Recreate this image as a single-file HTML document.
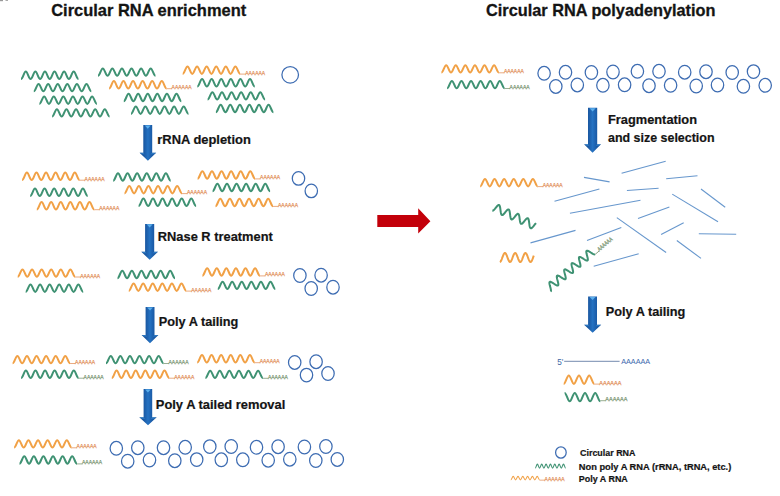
<!DOCTYPE html>
<html><head><meta charset="utf-8"><style>
html,body{margin:0;padding:0;background:#fff;}
body{width:780px;height:496px;overflow:hidden;}
svg{display:block;font-family:"Liberation Sans",sans-serif;}
</style></head><body>
<svg width="780" height="496" viewBox="0 0 780 496">
<defs>
<linearGradient id="ag" x1="0" y1="0" x2="1" y2="0">
<stop offset="0" stop-color="#154a8c"/>
<stop offset="0.25" stop-color="#1a58a2"/>
<stop offset="0.5" stop-color="#2572c2"/>
<stop offset="0.75" stop-color="#1a5aa6"/>
<stop offset="1" stop-color="#154a8c"/>
</linearGradient>
</defs>
<rect width="780" height="496" fill="#fff"/>
<rect x="0" y="0" width="3" height="1.2" fill="#999"/><rect x="5.5" y="0" width="2.5" height="1" fill="#aaa"/>
<text x="51.2" y="15.9" font-size="16.6" fill="#141414" font-weight="bold" textLength="195" lengthAdjust="spacingAndGlyphs" stroke="#141414" stroke-width="0.3">Circular RNA enrichment</text>
<text x="486" y="16" font-size="16.6" fill="#141414" font-weight="bold" textLength="229.5" lengthAdjust="spacingAndGlyphs" stroke="#141414" stroke-width="0.3">Circular RNA polyadenylation</text>
<path d="M21 79C22.74 79 24.05 71.6 25.79 71.6C27.53 71.6 28.84 79 30.58 79C32.32 79 33.63 71.6 35.37 71.6C37.11 71.6 38.42 79 40.16 79C41.9 79 43.21 71.6 44.95 71.6C46.69 71.6 48 79 49.74 79C51.48 79 52.79 71.6 54.53 71.6C56.27 71.6 57.58 79 59.32 79C61.06 79 62.37 71.6 64.11 71.6C65.85 71.6 67.16 79 68.9 79C70.64 79 71.95 71.6 73.69 71.6C75.43 71.6 76.74 79 78.48 79" stroke="#3f9273" stroke-width="2" fill="none"/>
<path d="M33.8 91.3C35.54 91.3 36.85 83.9 38.59 83.9C40.33 83.9 41.64 91.3 43.38 91.3C45.12 91.3 46.43 83.9 48.17 83.9C49.91 83.9 51.22 91.3 52.96 91.3C54.7 91.3 56.01 83.9 57.75 83.9C59.49 83.9 60.8 91.3 62.54 91.3C64.28 91.3 65.59 83.9 67.33 83.9C69.07 83.9 70.38 91.3 72.12 91.3C73.86 91.3 75.17 83.9 76.91 83.9C78.65 83.9 79.96 91.3 81.7 91.3C83.44 91.3 84.75 83.9 86.49 83.9C88.23 83.9 89.54 91.3 91.28 91.3" stroke="#3f9273" stroke-width="2" fill="none"/>
<path d="M39.4 103.9C41.14 103.9 42.45 96.5 44.19 96.5C45.93 96.5 47.24 103.9 48.98 103.9C50.72 103.9 52.03 96.5 53.77 96.5C55.51 96.5 56.82 103.9 58.56 103.9C60.3 103.9 61.61 96.5 63.35 96.5C65.09 96.5 66.4 103.9 68.14 103.9C69.88 103.9 71.19 96.5 72.93 96.5C74.67 96.5 75.98 103.9 77.72 103.9C79.46 103.9 80.77 96.5 82.51 96.5C84.25 96.5 85.56 103.9 87.3 103.9C89.04 103.9 90.35 96.5 92.09 96.5C93.83 96.5 95.14 103.9 96.88 103.9" stroke="#3f9273" stroke-width="2" fill="none"/>
<path d="M52.1 116.6C53.84 116.6 55.15 109.2 56.89 109.2C58.63 109.2 59.94 116.6 61.68 116.6C63.42 116.6 64.73 109.2 66.47 109.2C68.21 109.2 69.52 116.6 71.26 116.6C73 116.6 74.31 109.2 76.05 109.2C77.79 109.2 79.1 116.6 80.84 116.6C82.58 116.6 83.89 109.2 85.63 109.2C87.37 109.2 88.68 116.6 90.42 116.6C92.16 116.6 93.47 109.2 95.21 109.2C96.95 109.2 98.26 116.6 100 116.6C101.74 116.6 103.05 109.2 104.79 109.2C106.53 109.2 107.84 116.6 109.58 116.6" stroke="#3f9273" stroke-width="2" fill="none"/>
<path d="M98 75.8C99.74 75.8 101.05 68.4 102.79 68.4C104.53 68.4 105.84 75.8 107.58 75.8C109.32 75.8 110.63 68.4 112.37 68.4C114.11 68.4 115.42 75.8 117.16 75.8C118.9 75.8 120.21 68.4 121.95 68.4C123.69 68.4 125 75.8 126.74 75.8C128.48 75.8 129.79 68.4 131.53 68.4C133.27 68.4 134.58 75.8 136.32 75.8C138.06 75.8 139.37 68.4 141.11 68.4C142.85 68.4 144.16 75.8 145.9 75.8C147.64 75.8 148.95 68.4 150.69 68.4C152.43 68.4 153.74 75.8 155.48 75.8" stroke="#3f9273" stroke-width="2" fill="none"/>
<path d="M109.1 88.5C110.84 88.5 112.15 81.1 113.89 81.1C115.63 81.1 116.94 88.5 118.68 88.5C120.42 88.5 121.73 81.1 123.47 81.1C125.21 81.1 126.52 88.5 128.26 88.5C130 88.5 131.31 81.1 133.05 81.1C134.79 81.1 136.1 88.5 137.84 88.5C139.58 88.5 140.89 81.1 142.63 81.1C144.37 81.1 145.68 88.5 147.42 88.5C149.16 88.5 150.47 81.1 152.21 81.1C153.95 81.1 155.26 88.5 157 88.5C158.74 88.5 160.05 81.1 161.79 81.1C163.53 81.1 164.84 88.5 166.58 88.5" stroke="#f1a146" stroke-width="2" fill="none"/>
<path d="M166.58 88.7 L172.08 88.7" stroke="#e39563" stroke-width="0.8" fill="none"/>
<text x="171.58" y="89.2" font-size="5.6" fill="#e39563" stroke="#e39563" stroke-width="0.25" textLength="20" lengthAdjust="spacingAndGlyphs">AAAAAA</text>
<path d="M123.8 101.2C125.54 101.2 126.85 93.8 128.59 93.8C130.33 93.8 131.64 101.2 133.38 101.2C135.12 101.2 136.43 93.8 138.17 93.8C139.91 93.8 141.22 101.2 142.96 101.2C144.7 101.2 146.01 93.8 147.75 93.8C149.49 93.8 150.8 101.2 152.54 101.2C154.28 101.2 155.59 93.8 157.33 93.8C159.07 93.8 160.38 101.2 162.12 101.2C163.86 101.2 165.17 93.8 166.91 93.8C168.65 93.8 169.96 101.2 171.7 101.2C173.44 101.2 174.75 93.8 176.49 93.8C178.23 93.8 179.54 101.2 181.28 101.2" stroke="#3f9273" stroke-width="2" fill="none"/>
<path d="M131 113.9C132.74 113.9 134.05 106.5 135.79 106.5C137.53 106.5 138.84 113.9 140.58 113.9C142.32 113.9 143.63 106.5 145.37 106.5C147.11 106.5 148.42 113.9 150.16 113.9C151.9 113.9 153.21 106.5 154.95 106.5C156.69 106.5 158 113.9 159.74 113.9C161.48 113.9 162.79 106.5 164.53 106.5C166.27 106.5 167.58 113.9 169.32 113.9C171.06 113.9 172.37 106.5 174.11 106.5C175.85 106.5 177.16 113.9 178.9 113.9C180.64 113.9 181.95 106.5 183.69 106.5C185.43 106.5 186.74 113.9 188.48 113.9" stroke="#3f9273" stroke-width="2" fill="none"/>
<path d="M182.7 73.9C184.44 73.9 185.75 66.5 187.49 66.5C189.23 66.5 190.54 73.9 192.28 73.9C194.02 73.9 195.33 66.5 197.07 66.5C198.81 66.5 200.12 73.9 201.86 73.9C203.6 73.9 204.91 66.5 206.65 66.5C208.39 66.5 209.7 73.9 211.44 73.9C213.18 73.9 214.49 66.5 216.23 66.5C217.97 66.5 219.28 73.9 221.02 73.9C222.76 73.9 224.07 66.5 225.81 66.5C227.55 66.5 228.86 73.9 230.6 73.9C232.34 73.9 233.65 66.5 235.39 66.5C237.13 66.5 238.44 73.9 240.18 73.9" stroke="#f1a146" stroke-width="2" fill="none"/>
<path d="M240.18 74.1 L245.68 74.1" stroke="#e39563" stroke-width="0.8" fill="none"/>
<text x="245.18" y="74.6" font-size="5.6" fill="#e39563" stroke="#e39563" stroke-width="0.25" textLength="20" lengthAdjust="spacingAndGlyphs">AAAAAA</text>
<path d="M197.3 86.5C199.04 86.5 200.35 79.1 202.09 79.1C203.83 79.1 205.14 86.5 206.88 86.5C208.62 86.5 209.93 79.1 211.67 79.1C213.41 79.1 214.72 86.5 216.46 86.5C218.2 86.5 219.51 79.1 221.25 79.1C222.99 79.1 224.3 86.5 226.04 86.5C227.78 86.5 229.09 79.1 230.83 79.1C232.57 79.1 233.88 86.5 235.62 86.5C237.36 86.5 238.67 79.1 240.41 79.1C242.15 79.1 243.46 86.5 245.2 86.5C246.94 86.5 248.25 79.1 249.99 79.1C251.73 79.1 253.04 86.5 254.78 86.5" stroke="#3f9273" stroke-width="2" fill="none"/>
<path d="M207.6 99.6C209.34 99.6 210.65 92.2 212.39 92.2C214.13 92.2 215.44 99.6 217.18 99.6C218.92 99.6 220.23 92.2 221.97 92.2C223.71 92.2 225.02 99.6 226.76 99.6C228.5 99.6 229.81 92.2 231.55 92.2C233.29 92.2 234.6 99.6 236.34 99.6C238.08 99.6 239.39 92.2 241.13 92.2C242.87 92.2 244.18 99.6 245.92 99.6C247.66 99.6 248.97 92.2 250.71 92.2C252.45 92.2 253.76 99.6 255.5 99.6C257.24 99.6 258.55 92.2 260.29 92.2C262.03 92.2 263.34 99.6 265.08 99.6" stroke="#3f9273" stroke-width="2" fill="none"/>
<path d="M215.9 112.2C217.64 112.2 218.95 104.8 220.69 104.8C222.43 104.8 223.74 112.2 225.48 112.2C227.22 112.2 228.53 104.8 230.27 104.8C232.01 104.8 233.32 112.2 235.06 112.2C236.8 112.2 238.11 104.8 239.85 104.8C241.59 104.8 242.9 112.2 244.64 112.2C246.38 112.2 247.69 104.8 249.43 104.8C251.17 104.8 252.48 112.2 254.22 112.2C255.96 112.2 257.27 104.8 259.01 104.8C260.75 104.8 262.06 112.2 263.8 112.2C265.54 112.2 266.85 104.8 268.59 104.8C270.33 104.8 271.64 112.2 273.38 112.2" stroke="#3f9273" stroke-width="2" fill="none"/>
<ellipse cx="290.2" cy="74.8" rx="8.3" ry="8.2" stroke="#3d6cb2" stroke-width="1.25" fill="none"/>
<path d="M22.1 180C23.84 180 25.15 172.6 26.89 172.6C28.63 172.6 29.94 180 31.68 180C33.42 180 34.73 172.6 36.47 172.6C38.21 172.6 39.52 180 41.26 180C43 180 44.31 172.6 46.05 172.6C47.79 172.6 49.1 180 50.84 180C52.58 180 53.89 172.6 55.63 172.6C57.37 172.6 58.68 180 60.42 180C62.16 180 63.47 172.6 65.21 172.6C66.95 172.6 68.26 180 70 180C71.74 180 73.05 172.6 74.79 172.6C76.53 172.6 77.84 180 79.58 180" stroke="#f1a146" stroke-width="2" fill="none"/>
<path d="M79.58 180.2 L85.08 180.2" stroke="#e39563" stroke-width="0.8" fill="none"/>
<text x="84.58" y="180.7" font-size="5.6" fill="#e39563" stroke="#e39563" stroke-width="0.25" textLength="20" lengthAdjust="spacingAndGlyphs">AAAAAA</text>
<path d="M30.2 196C31.94 196 33.25 188.6 34.99 188.6C36.73 188.6 38.04 196 39.78 196C41.52 196 42.83 188.6 44.57 188.6C46.31 188.6 47.62 196 49.36 196C51.1 196 52.41 188.6 54.15 188.6C55.89 188.6 57.2 196 58.94 196C60.68 196 61.99 188.6 63.73 188.6C65.47 188.6 66.78 196 68.52 196C70.26 196 71.57 188.6 73.31 188.6C75.05 188.6 76.36 196 78.1 196C79.84 196 81.15 188.6 82.89 188.6C84.63 188.6 85.94 196 87.68 196" stroke="#3f9273" stroke-width="2" fill="none"/>
<path d="M36.8 209.5C38.54 209.5 39.85 202.1 41.59 202.1C43.33 202.1 44.64 209.5 46.38 209.5C48.12 209.5 49.43 202.1 51.17 202.1C52.91 202.1 54.22 209.5 55.96 209.5C57.7 209.5 59.01 202.1 60.75 202.1C62.49 202.1 63.8 209.5 65.54 209.5C67.28 209.5 68.59 202.1 70.33 202.1C72.07 202.1 73.38 209.5 75.12 209.5C76.86 209.5 78.17 202.1 79.91 202.1C81.65 202.1 82.96 209.5 84.7 209.5C86.44 209.5 87.75 202.1 89.49 202.1C91.23 202.1 92.54 209.5 94.28 209.5" stroke="#f1a146" stroke-width="2" fill="none"/>
<path d="M94.28 209.7 L99.78 209.7" stroke="#e39563" stroke-width="0.8" fill="none"/>
<text x="99.28" y="210.2" font-size="5.6" fill="#e39563" stroke="#e39563" stroke-width="0.25" textLength="20" lengthAdjust="spacingAndGlyphs">AAAAAA</text>
<path d="M113.2 180.7C114.94 180.7 116.25 173.3 117.99 173.3C119.73 173.3 121.04 180.7 122.78 180.7C124.52 180.7 125.83 173.3 127.57 173.3C129.31 173.3 130.62 180.7 132.36 180.7C134.1 180.7 135.41 173.3 137.15 173.3C138.89 173.3 140.2 180.7 141.94 180.7C143.68 180.7 144.99 173.3 146.73 173.3C148.47 173.3 149.78 180.7 151.52 180.7C153.26 180.7 154.57 173.3 156.31 173.3C158.05 173.3 159.36 180.7 161.1 180.7C162.84 180.7 164.15 173.3 165.89 173.3C167.63 173.3 168.94 180.7 170.68 180.7" stroke="#3f9273" stroke-width="2" fill="none"/>
<path d="M124.5 193.4C126.24 193.4 127.55 186 129.29 186C131.03 186 132.34 193.4 134.08 193.4C135.82 193.4 137.13 186 138.87 186C140.61 186 141.92 193.4 143.66 193.4C145.4 193.4 146.71 186 148.45 186C150.19 186 151.5 193.4 153.24 193.4C154.98 193.4 156.29 186 158.03 186C159.77 186 161.08 193.4 162.82 193.4C164.56 193.4 165.87 186 167.61 186C169.35 186 170.66 193.4 172.4 193.4C174.14 193.4 175.45 186 177.19 186C178.93 186 180.24 193.4 181.98 193.4" stroke="#f1a146" stroke-width="2" fill="none"/>
<path d="M181.98 193.6 L187.48 193.6" stroke="#e39563" stroke-width="0.8" fill="none"/>
<text x="186.98" y="194.1" font-size="5.6" fill="#e39563" stroke="#e39563" stroke-width="0.25" textLength="20" lengthAdjust="spacingAndGlyphs">AAAAAA</text>
<path d="M138.6 206C140.34 206 141.65 198.6 143.39 198.6C145.13 198.6 146.44 206 148.18 206C149.92 206 151.23 198.6 152.97 198.6C154.71 198.6 156.02 206 157.76 206C159.5 206 160.81 198.6 162.55 198.6C164.29 198.6 165.6 206 167.34 206C169.08 206 170.39 198.6 172.13 198.6C173.87 198.6 175.18 206 176.92 206C178.66 206 179.97 198.6 181.71 198.6C183.45 198.6 184.76 206 186.5 206C188.24 206 189.55 198.6 191.29 198.6C193.03 198.6 194.34 206 196.08 206" stroke="#3f9273" stroke-width="2" fill="none"/>
<path d="M197.6 178.7C199.34 178.7 200.65 171.3 202.39 171.3C204.13 171.3 205.44 178.7 207.18 178.7C208.92 178.7 210.23 171.3 211.97 171.3C213.71 171.3 215.02 178.7 216.76 178.7C218.5 178.7 219.81 171.3 221.55 171.3C223.29 171.3 224.6 178.7 226.34 178.7C228.08 178.7 229.39 171.3 231.13 171.3C232.87 171.3 234.18 178.7 235.92 178.7C237.66 178.7 238.97 171.3 240.71 171.3C242.45 171.3 243.76 178.7 245.5 178.7C247.24 178.7 248.55 171.3 250.29 171.3C252.03 171.3 253.34 178.7 255.08 178.7" stroke="#f1a146" stroke-width="2" fill="none"/>
<path d="M255.08 178.9 L260.58 178.9" stroke="#e39563" stroke-width="0.8" fill="none"/>
<text x="260.08" y="179.4" font-size="5.6" fill="#e39563" stroke="#e39563" stroke-width="0.25" textLength="20" lengthAdjust="spacingAndGlyphs">AAAAAA</text>
<path d="M212.6 191.2C214.34 191.2 215.65 183.8 217.39 183.8C219.13 183.8 220.44 191.2 222.18 191.2C223.92 191.2 225.23 183.8 226.97 183.8C228.71 183.8 230.02 191.2 231.76 191.2C233.5 191.2 234.81 183.8 236.55 183.8C238.29 183.8 239.6 191.2 241.34 191.2C243.08 191.2 244.39 183.8 246.13 183.8C247.87 183.8 249.18 191.2 250.92 191.2C252.66 191.2 253.97 183.8 255.71 183.8C257.45 183.8 258.76 191.2 260.5 191.2C262.24 191.2 263.55 183.8 265.29 183.8C267.03 183.8 268.34 191.2 270.08 191.2" stroke="#3f9273" stroke-width="2" fill="none"/>
<path d="M215.5 206.2C217.24 206.2 218.55 198.8 220.29 198.8C222.03 198.8 223.34 206.2 225.08 206.2C226.82 206.2 228.13 198.8 229.87 198.8C231.61 198.8 232.92 206.2 234.66 206.2C236.4 206.2 237.71 198.8 239.45 198.8C241.19 198.8 242.5 206.2 244.24 206.2C245.98 206.2 247.29 198.8 249.03 198.8C250.77 198.8 252.08 206.2 253.82 206.2C255.56 206.2 256.87 198.8 258.61 198.8C260.35 198.8 261.66 206.2 263.4 206.2C265.14 206.2 266.45 198.8 268.19 198.8C269.93 198.8 271.24 206.2 272.98 206.2" stroke="#f1a146" stroke-width="2" fill="none"/>
<path d="M272.98 206.4 L278.48 206.4" stroke="#e39563" stroke-width="0.8" fill="none"/>
<text x="277.98" y="206.9" font-size="5.6" fill="#e39563" stroke="#e39563" stroke-width="0.25" textLength="20" lengthAdjust="spacingAndGlyphs">AAAAAA</text>
<ellipse cx="298.5" cy="178.4" rx="6.2" ry="6.85" stroke="#3d6cb2" stroke-width="1.25" fill="none"/>
<ellipse cx="311.3" cy="190.9" rx="6.2" ry="6.85" stroke="#3d6cb2" stroke-width="1.25" fill="none"/>
<path d="M17.7 276.8C19.44 276.8 20.75 269.4 22.49 269.4C24.23 269.4 25.54 276.8 27.28 276.8C29.02 276.8 30.33 269.4 32.07 269.4C33.81 269.4 35.12 276.8 36.86 276.8C38.6 276.8 39.91 269.4 41.65 269.4C43.39 269.4 44.7 276.8 46.44 276.8C48.18 276.8 49.49 269.4 51.23 269.4C52.97 269.4 54.28 276.8 56.02 276.8C57.76 276.8 59.07 269.4 60.81 269.4C62.55 269.4 63.86 276.8 65.6 276.8C67.34 276.8 68.65 269.4 70.39 269.4C72.13 269.4 73.44 276.8 75.18 276.8" stroke="#f1a146" stroke-width="2" fill="none"/>
<path d="M75.18 277 L80.68 277" stroke="#e39563" stroke-width="0.8" fill="none"/>
<text x="80.18" y="277.5" font-size="5.6" fill="#e39563" stroke="#e39563" stroke-width="0.25" textLength="20" lengthAdjust="spacingAndGlyphs">AAAAAA</text>
<path d="M25.7 291.9C27.44 291.9 28.75 284.5 30.49 284.5C32.23 284.5 33.54 291.9 35.28 291.9C37.02 291.9 38.33 284.5 40.07 284.5C41.81 284.5 43.12 291.9 44.86 291.9C46.6 291.9 47.91 284.5 49.65 284.5C51.39 284.5 52.7 291.9 54.44 291.9C56.18 291.9 57.49 284.5 59.23 284.5C60.97 284.5 62.28 291.9 64.02 291.9C65.76 291.9 67.07 284.5 68.81 284.5C70.55 284.5 71.86 291.9 73.6 291.9C75.34 291.9 76.65 284.5 78.39 284.5C80.13 284.5 81.44 291.9 83.18 291.9" stroke="#3f9273" stroke-width="2" fill="none"/>
<path d="M117.5 278.2C119.24 278.2 120.55 270.8 122.29 270.8C124.03 270.8 125.34 278.2 127.08 278.2C128.82 278.2 130.13 270.8 131.87 270.8C133.61 270.8 134.92 278.2 136.66 278.2C138.4 278.2 139.71 270.8 141.45 270.8C143.19 270.8 144.5 278.2 146.24 278.2C147.98 278.2 149.29 270.8 151.03 270.8C152.77 270.8 154.08 278.2 155.82 278.2C157.56 278.2 158.87 270.8 160.61 270.8C162.35 270.8 163.66 278.2 165.4 278.2C167.14 278.2 168.45 270.8 170.19 270.8C171.93 270.8 173.24 278.2 174.98 278.2" stroke="#3f9273" stroke-width="2" fill="none"/>
<path d="M128.8 290.9C130.54 290.9 131.85 283.5 133.59 283.5C135.33 283.5 136.64 290.9 138.38 290.9C140.12 290.9 141.43 283.5 143.17 283.5C144.91 283.5 146.22 290.9 147.96 290.9C149.7 290.9 151.01 283.5 152.75 283.5C154.49 283.5 155.8 290.9 157.54 290.9C159.28 290.9 160.59 283.5 162.33 283.5C164.07 283.5 165.38 290.9 167.12 290.9C168.86 290.9 170.17 283.5 171.91 283.5C173.65 283.5 174.96 290.9 176.7 290.9C178.44 290.9 179.75 283.5 181.49 283.5C183.23 283.5 184.54 290.9 186.28 290.9" stroke="#f1a146" stroke-width="2" fill="none"/>
<path d="M186.28 291.1 L191.78 291.1" stroke="#e39563" stroke-width="0.8" fill="none"/>
<text x="191.28" y="291.6" font-size="5.6" fill="#e39563" stroke="#e39563" stroke-width="0.25" textLength="20" lengthAdjust="spacingAndGlyphs">AAAAAA</text>
<path d="M202.4 275.7C204.14 275.7 205.45 268.3 207.19 268.3C208.93 268.3 210.24 275.7 211.98 275.7C213.72 275.7 215.03 268.3 216.77 268.3C218.51 268.3 219.82 275.7 221.56 275.7C223.3 275.7 224.61 268.3 226.35 268.3C228.09 268.3 229.4 275.7 231.14 275.7C232.88 275.7 234.19 268.3 235.93 268.3C237.67 268.3 238.98 275.7 240.72 275.7C242.46 275.7 243.77 268.3 245.51 268.3C247.25 268.3 248.56 275.7 250.3 275.7C252.04 275.7 253.35 268.3 255.09 268.3C256.83 268.3 258.14 275.7 259.88 275.7" stroke="#f1a146" stroke-width="2" fill="none"/>
<path d="M259.88 275.9 L265.38 275.9" stroke="#e39563" stroke-width="0.8" fill="none"/>
<text x="264.88" y="276.4" font-size="5.6" fill="#e39563" stroke="#e39563" stroke-width="0.25" textLength="20" lengthAdjust="spacingAndGlyphs">AAAAAA</text>
<path d="M217.8 289.1C219.54 289.1 220.85 281.7 222.59 281.7C224.33 281.7 225.64 289.1 227.38 289.1C229.12 289.1 230.43 281.7 232.17 281.7C233.91 281.7 235.22 289.1 236.96 289.1C238.7 289.1 240.01 281.7 241.75 281.7C243.49 281.7 244.8 289.1 246.54 289.1C248.28 289.1 249.59 281.7 251.33 281.7C253.07 281.7 254.38 289.1 256.12 289.1C257.86 289.1 259.17 281.7 260.91 281.7C262.65 281.7 263.96 289.1 265.7 289.1C267.44 289.1 268.75 281.7 270.49 281.7C272.23 281.7 273.54 289.1 275.28 289.1" stroke="#3f9273" stroke-width="2" fill="none"/>
<ellipse cx="299.9" cy="275.5" rx="6.2" ry="6.85" stroke="#3d6cb2" stroke-width="1.25" fill="none"/>
<ellipse cx="321.1" cy="275.2" rx="6.2" ry="6.85" stroke="#3d6cb2" stroke-width="1.25" fill="none"/>
<ellipse cx="311.2" cy="288.5" rx="6.2" ry="6.85" stroke="#3d6cb2" stroke-width="1.25" fill="none"/>
<ellipse cx="333" cy="287.2" rx="6.2" ry="6.85" stroke="#3d6cb2" stroke-width="1.25" fill="none"/>
<path d="M12.6 363.3C14.34 363.3 15.65 355.9 17.39 355.9C19.13 355.9 20.44 363.3 22.18 363.3C23.92 363.3 25.23 355.9 26.97 355.9C28.71 355.9 30.02 363.3 31.76 363.3C33.5 363.3 34.81 355.9 36.55 355.9C38.29 355.9 39.6 363.3 41.34 363.3C43.08 363.3 44.39 355.9 46.13 355.9C47.87 355.9 49.18 363.3 50.92 363.3C52.66 363.3 53.97 355.9 55.71 355.9C57.45 355.9 58.76 363.3 60.5 363.3C62.24 363.3 63.55 355.9 65.29 355.9C67.03 355.9 68.34 363.3 70.08 363.3" stroke="#f1a146" stroke-width="2" fill="none"/>
<path d="M70.08 363.5 L75.58 363.5" stroke="#e39563" stroke-width="0.8" fill="none"/>
<text x="75.08" y="364" font-size="5.6" fill="#e39563" stroke="#e39563" stroke-width="0.25" textLength="20" lengthAdjust="spacingAndGlyphs">AAAAAA</text>
<path d="M21.1 378C22.84 378 24.15 370.6 25.89 370.6C27.63 370.6 28.94 378 30.68 378C32.42 378 33.73 370.6 35.47 370.6C37.21 370.6 38.52 378 40.26 378C42 378 43.31 370.6 45.05 370.6C46.79 370.6 48.1 378 49.84 378C51.58 378 52.89 370.6 54.63 370.6C56.37 370.6 57.68 378 59.42 378C61.16 378 62.47 370.6 64.21 370.6C65.95 370.6 67.26 378 69 378C70.74 378 72.05 370.6 73.79 370.6C75.53 370.6 76.84 378 78.58 378" stroke="#3f9273" stroke-width="2" fill="none"/>
<path d="M78.58 378.2 L84.08 378.2" stroke="#7f9a78" stroke-width="0.8" fill="none"/>
<text x="83.58" y="378.7" font-size="5.6" fill="#7f9a78" stroke="#7f9a78" stroke-width="0.25" textLength="20" lengthAdjust="spacingAndGlyphs">AAAAAA</text>
<path d="M106 363.3C107.74 363.3 109.05 355.9 110.79 355.9C112.53 355.9 113.84 363.3 115.58 363.3C117.32 363.3 118.63 355.9 120.37 355.9C122.11 355.9 123.42 363.3 125.16 363.3C126.9 363.3 128.21 355.9 129.95 355.9C131.69 355.9 133 363.3 134.74 363.3C136.48 363.3 137.79 355.9 139.53 355.9C141.27 355.9 142.58 363.3 144.32 363.3C146.06 363.3 147.37 355.9 149.11 355.9C150.85 355.9 152.16 363.3 153.9 363.3C155.64 363.3 156.95 355.9 158.69 355.9C160.43 355.9 161.74 363.3 163.48 363.3" stroke="#3f9273" stroke-width="2" fill="none"/>
<path d="M163.48 363.5 L168.98 363.5" stroke="#7f9a78" stroke-width="0.8" fill="none"/>
<text x="168.48" y="364" font-size="5.6" fill="#7f9a78" stroke="#7f9a78" stroke-width="0.25" textLength="20" lengthAdjust="spacingAndGlyphs">AAAAAA</text>
<path d="M111.8 378C113.54 378 114.85 370.6 116.59 370.6C118.33 370.6 119.64 378 121.38 378C123.12 378 124.43 370.6 126.17 370.6C127.91 370.6 129.22 378 130.96 378C132.7 378 134.01 370.6 135.75 370.6C137.49 370.6 138.8 378 140.54 378C142.28 378 143.59 370.6 145.33 370.6C147.07 370.6 148.38 378 150.12 378C151.86 378 153.17 370.6 154.91 370.6C156.65 370.6 157.96 378 159.7 378C161.44 378 162.75 370.6 164.49 370.6C166.23 370.6 167.54 378 169.28 378" stroke="#f1a146" stroke-width="2" fill="none"/>
<path d="M169.28 378.2 L174.78 378.2" stroke="#e39563" stroke-width="0.8" fill="none"/>
<text x="174.28" y="378.7" font-size="5.6" fill="#e39563" stroke="#e39563" stroke-width="0.25" textLength="20" lengthAdjust="spacingAndGlyphs">AAAAAA</text>
<path d="M197.2 362.5C198.94 362.5 200.25 355.1 201.99 355.1C203.73 355.1 205.04 362.5 206.78 362.5C208.52 362.5 209.83 355.1 211.57 355.1C213.31 355.1 214.62 362.5 216.36 362.5C218.1 362.5 219.41 355.1 221.15 355.1C222.89 355.1 224.2 362.5 225.94 362.5C227.68 362.5 228.99 355.1 230.73 355.1C232.47 355.1 233.78 362.5 235.52 362.5C237.26 362.5 238.57 355.1 240.31 355.1C242.05 355.1 243.36 362.5 245.1 362.5C246.84 362.5 248.15 355.1 249.89 355.1C251.63 355.1 252.94 362.5 254.68 362.5" stroke="#f1a146" stroke-width="2" fill="none"/>
<path d="M254.68 362.7 L260.18 362.7" stroke="#e39563" stroke-width="0.8" fill="none"/>
<text x="259.68" y="363.2" font-size="5.6" fill="#e39563" stroke="#e39563" stroke-width="0.25" textLength="20" lengthAdjust="spacingAndGlyphs">AAAAAA</text>
<path d="M205.4 378.1C207.14 378.1 208.45 370.7 210.19 370.7C211.93 370.7 213.24 378.1 214.98 378.1C216.72 378.1 218.03 370.7 219.77 370.7C221.51 370.7 222.82 378.1 224.56 378.1C226.3 378.1 227.61 370.7 229.35 370.7C231.09 370.7 232.4 378.1 234.14 378.1C235.88 378.1 237.19 370.7 238.93 370.7C240.67 370.7 241.98 378.1 243.72 378.1C245.46 378.1 246.77 370.7 248.51 370.7C250.25 370.7 251.56 378.1 253.3 378.1C255.04 378.1 256.35 370.7 258.09 370.7C259.83 370.7 261.14 378.1 262.88 378.1" stroke="#3f9273" stroke-width="2" fill="none"/>
<path d="M262.88 378.3 L268.38 378.3" stroke="#7f9a78" stroke-width="0.8" fill="none"/>
<text x="267.88" y="378.8" font-size="5.6" fill="#7f9a78" stroke="#7f9a78" stroke-width="0.25" textLength="20" lengthAdjust="spacingAndGlyphs">AAAAAA</text>
<ellipse cx="294.7" cy="362.4" rx="6.2" ry="6.85" stroke="#3d6cb2" stroke-width="1.25" fill="none"/>
<ellipse cx="316.1" cy="361.7" rx="6.2" ry="6.85" stroke="#3d6cb2" stroke-width="1.25" fill="none"/>
<ellipse cx="306.5" cy="375.1" rx="6.2" ry="6.85" stroke="#3d6cb2" stroke-width="1.25" fill="none"/>
<ellipse cx="328" cy="373.5" rx="6.2" ry="6.85" stroke="#3d6cb2" stroke-width="1.25" fill="none"/>
<path d="M14.1 447.6C15.84 447.6 17.15 440.2 18.89 440.2C20.63 440.2 21.94 447.6 23.68 447.6C25.42 447.6 26.73 440.2 28.47 440.2C30.21 440.2 31.52 447.6 33.26 447.6C35 447.6 36.31 440.2 38.05 440.2C39.79 440.2 41.1 447.6 42.84 447.6C44.58 447.6 45.89 440.2 47.63 440.2C49.37 440.2 50.68 447.6 52.42 447.6C54.16 447.6 55.47 440.2 57.21 440.2C58.95 440.2 60.26 447.6 62 447.6C63.74 447.6 65.05 440.2 66.79 440.2C68.53 440.2 69.84 447.6 71.58 447.6" stroke="#f1a146" stroke-width="2" fill="none"/>
<path d="M71.58 447.8 L77.08 447.8" stroke="#e39563" stroke-width="0.8" fill="none"/>
<text x="76.58" y="448.3" font-size="5.6" fill="#e39563" stroke="#e39563" stroke-width="0.25" textLength="20" lengthAdjust="spacingAndGlyphs">AAAAAA</text>
<path d="M19.5 463.7C21.24 463.7 22.55 456.3 24.29 456.3C26.03 456.3 27.34 463.7 29.08 463.7C30.82 463.7 32.13 456.3 33.87 456.3C35.61 456.3 36.92 463.7 38.66 463.7C40.4 463.7 41.71 456.3 43.45 456.3C45.19 456.3 46.5 463.7 48.24 463.7C49.98 463.7 51.29 456.3 53.03 456.3C54.77 456.3 56.08 463.7 57.82 463.7C59.56 463.7 60.87 456.3 62.61 456.3C64.35 456.3 65.66 463.7 67.4 463.7C69.14 463.7 70.45 456.3 72.19 456.3C73.93 456.3 75.24 463.7 76.98 463.7" stroke="#3f9273" stroke-width="2" fill="none"/>
<path d="M76.98 463.9 L82.48 463.9" stroke="#7f9a78" stroke-width="0.8" fill="none"/>
<text x="81.98" y="464.4" font-size="5.6" fill="#7f9a78" stroke="#7f9a78" stroke-width="0.25" textLength="20" lengthAdjust="spacingAndGlyphs">AAAAAA</text>
<ellipse cx="116.3" cy="448.3" rx="6.2" ry="6.85" stroke="#3d6cb2" stroke-width="1.25" fill="none"/>
<ellipse cx="137.8" cy="447.7" rx="6.2" ry="6.85" stroke="#3d6cb2" stroke-width="1.25" fill="none"/>
<ellipse cx="163.5" cy="447.7" rx="6.2" ry="6.85" stroke="#3d6cb2" stroke-width="1.25" fill="none"/>
<ellipse cx="185.2" cy="447.3" rx="6.2" ry="6.85" stroke="#3d6cb2" stroke-width="1.25" fill="none"/>
<ellipse cx="209.8" cy="446.6" rx="6.2" ry="6.85" stroke="#3d6cb2" stroke-width="1.25" fill="none"/>
<ellipse cx="231.2" cy="446.5" rx="6.2" ry="6.85" stroke="#3d6cb2" stroke-width="1.25" fill="none"/>
<ellipse cx="256.5" cy="447.3" rx="6.2" ry="6.85" stroke="#3d6cb2" stroke-width="1.25" fill="none"/>
<ellipse cx="278.1" cy="446.7" rx="6.2" ry="6.85" stroke="#3d6cb2" stroke-width="1.25" fill="none"/>
<ellipse cx="304.4" cy="447" rx="6.2" ry="6.85" stroke="#3d6cb2" stroke-width="1.25" fill="none"/>
<ellipse cx="325.9" cy="446.5" rx="6.2" ry="6.85" stroke="#3d6cb2" stroke-width="1.25" fill="none"/>
<ellipse cx="127.7" cy="461.2" rx="6.2" ry="6.85" stroke="#3d6cb2" stroke-width="1.25" fill="none"/>
<ellipse cx="149.5" cy="460" rx="6.2" ry="6.85" stroke="#3d6cb2" stroke-width="1.25" fill="none"/>
<ellipse cx="174.8" cy="460.7" rx="6.2" ry="6.85" stroke="#3d6cb2" stroke-width="1.25" fill="none"/>
<ellipse cx="196.7" cy="459.6" rx="6.2" ry="6.85" stroke="#3d6cb2" stroke-width="1.25" fill="none"/>
<ellipse cx="221.3" cy="459.8" rx="6.2" ry="6.85" stroke="#3d6cb2" stroke-width="1.25" fill="none"/>
<ellipse cx="242.8" cy="459.8" rx="6.2" ry="6.85" stroke="#3d6cb2" stroke-width="1.25" fill="none"/>
<ellipse cx="268.2" cy="460.2" rx="6.2" ry="6.85" stroke="#3d6cb2" stroke-width="1.25" fill="none"/>
<ellipse cx="289.8" cy="459.2" rx="6.2" ry="6.85" stroke="#3d6cb2" stroke-width="1.25" fill="none"/>
<ellipse cx="315.8" cy="460.5" rx="6.2" ry="6.85" stroke="#3d6cb2" stroke-width="1.25" fill="none"/>
<ellipse cx="337.3" cy="459.4" rx="6.2" ry="6.85" stroke="#3d6cb2" stroke-width="1.25" fill="none"/>
<path d="M143.3 125.1 L152.2 125.1 L152.2 152.8 L156.2 152.8 L147.9 160.8 L139.6 152.8 L143.3 152.8 Z" fill="url(#ag)"/>
<path d="M144.8 125.5 L150.7 125.5 L147.75 128.7 Z" fill="#62b6f2" opacity="0.9"/>
<path d="M139.6 152.8 L143.3 152.8 L144.8 154.3 L142.1 154.3 Z" fill="#3d95dc" opacity="0.6"/>
<path d="M156.2 152.8 L152.2 152.8 L150.7 154.3 L153.7 154.3 Z" fill="#3d95dc" opacity="0.6"/>
<path d="M145.1 223.9 L154.2 223.9 L154.2 251.8 L158 251.8 L149.65 259.8 L141.3 251.8 L145.1 251.8 Z" fill="url(#ag)"/>
<path d="M146.6 224.3 L152.7 224.3 L149.65 227.5 Z" fill="#62b6f2" opacity="0.9"/>
<path d="M141.3 251.8 L145.1 251.8 L146.6 253.3 L143.8 253.3 Z" fill="#3d95dc" opacity="0.6"/>
<path d="M158 251.8 L154.2 251.8 L152.7 253.3 L155.5 253.3 Z" fill="#3d95dc" opacity="0.6"/>
<path d="M145.6 307 L154.5 307 L154.5 335 L158.4 335 L150 343.3 L141.6 335 L145.6 335 Z" fill="url(#ag)"/>
<path d="M147.1 307.4 L153 307.4 L150.05 310.6 Z" fill="#62b6f2" opacity="0.9"/>
<path d="M141.6 335 L145.6 335 L147.1 336.5 L144.1 336.5 Z" fill="#3d95dc" opacity="0.6"/>
<path d="M158.4 335 L154.5 335 L153 336.5 L155.9 336.5 Z" fill="#3d95dc" opacity="0.6"/>
<path d="M143.6 389 L152.2 389 L152.2 417.2 L156.7 417.2 L148 425.3 L139.3 417.2 L143.6 417.2 Z" fill="url(#ag)"/>
<path d="M145.1 389.4 L150.7 389.4 L147.9 392.6 Z" fill="#62b6f2" opacity="0.9"/>
<path d="M139.3 417.2 L143.6 417.2 L145.1 418.7 L141.8 418.7 Z" fill="#3d95dc" opacity="0.6"/>
<path d="M156.7 417.2 L152.2 417.2 L150.7 418.7 L154.2 418.7 Z" fill="#3d95dc" opacity="0.6"/>
<path d="M588 107.8 L597.2 107.8 L597.2 144.3 L601 144.3 L592.55 152.8 L584.1 144.3 L588 144.3 Z" fill="url(#ag)"/>
<path d="M589.5 108.2 L595.7 108.2 L592.6 111.4 Z" fill="#62b6f2" opacity="0.9"/>
<path d="M584.1 144.3 L588 144.3 L589.5 145.8 L586.6 145.8 Z" fill="#3d95dc" opacity="0.6"/>
<path d="M601 144.3 L597.2 144.3 L595.7 145.8 L598.5 145.8 Z" fill="#3d95dc" opacity="0.6"/>
<path d="M588.1 296.5 L597 296.5 L597 324.8 L601.2 324.8 L592.65 332.8 L584.1 324.8 L588.1 324.8 Z" fill="url(#ag)"/>
<path d="M589.6 296.9 L595.5 296.9 L592.55 300.1 Z" fill="#62b6f2" opacity="0.9"/>
<path d="M584.1 324.8 L588.1 324.8 L589.6 326.3 L586.6 326.3 Z" fill="#3d95dc" opacity="0.6"/>
<path d="M601.2 324.8 L597 324.8 L595.5 326.3 L598.7 326.3 Z" fill="#3d95dc" opacity="0.6"/>
<text x="157.3" y="143.8" font-size="12.6" fill="#141414" font-weight="bold" textLength="93.5" lengthAdjust="spacingAndGlyphs" stroke="#141414" stroke-width="0.2">rRNA depletion</text>
<text x="157.8" y="240.7" font-size="12.6" fill="#141414" font-weight="bold" textLength="115" lengthAdjust="spacingAndGlyphs" stroke="#141414" stroke-width="0.2">RNase R treatment</text>
<text x="158.8" y="325.5" font-size="12.6" fill="#141414" font-weight="bold" textLength="79.5" lengthAdjust="spacingAndGlyphs" stroke="#141414" stroke-width="0.2">Poly A tailing</text>
<text x="155.8" y="408.9" font-size="12.6" fill="#141414" font-weight="bold" textLength="129.5" lengthAdjust="spacingAndGlyphs" stroke="#141414" stroke-width="0.2">Poly A tailed removal</text>
<text x="608" y="124.2" font-size="12.6" fill="#141414" font-weight="bold" textLength="89" lengthAdjust="spacingAndGlyphs" stroke="#141414" stroke-width="0.2">Fragmentation</text>
<text x="608" y="141.5" font-size="12.6" fill="#141414" font-weight="bold" textLength="106.5" lengthAdjust="spacingAndGlyphs" stroke="#141414" stroke-width="0.2">and size selection</text>
<text x="605.8" y="315.8" font-size="12.6" fill="#141414" font-weight="bold" textLength="79.5" lengthAdjust="spacingAndGlyphs" stroke="#141414" stroke-width="0.2">Poly A tailing</text>
<path d="M377.3 215 L418.2 215 L418.2 208.3 L430.4 221.2 L418.2 233.5 L418.2 227 L377.3 227 Z" fill="#c3000a"/>
<path d="M441.4 72.6C443.14 72.6 444.45 65.2 446.19 65.2C447.93 65.2 449.24 72.6 450.98 72.6C452.72 72.6 454.03 65.2 455.77 65.2C457.51 65.2 458.82 72.6 460.56 72.6C462.3 72.6 463.61 65.2 465.35 65.2C467.09 65.2 468.4 72.6 470.14 72.6C471.88 72.6 473.19 65.2 474.93 65.2C476.67 65.2 477.98 72.6 479.72 72.6C481.46 72.6 482.77 65.2 484.51 65.2C486.25 65.2 487.56 72.6 489.3 72.6C491.04 72.6 492.35 65.2 494.09 65.2C495.83 65.2 497.14 72.6 498.88 72.6" stroke="#f1a146" stroke-width="2" fill="none"/>
<path d="M498.88 72.8 L504.38 72.8" stroke="#e39563" stroke-width="0.8" fill="none"/>
<text x="503.88" y="73.3" font-size="5.6" fill="#e39563" stroke="#e39563" stroke-width="0.25" textLength="20" lengthAdjust="spacingAndGlyphs">AAAAAA</text>
<path d="M447.1 88.3C448.84 88.3 450.15 80.9 451.89 80.9C453.63 80.9 454.94 88.3 456.68 88.3C458.42 88.3 459.73 80.9 461.47 80.9C463.21 80.9 464.52 88.3 466.26 88.3C468 88.3 469.31 80.9 471.05 80.9C472.79 80.9 474.1 88.3 475.84 88.3C477.58 88.3 478.89 80.9 480.63 80.9C482.37 80.9 483.68 88.3 485.42 88.3C487.16 88.3 488.47 80.9 490.21 80.9C491.95 80.9 493.26 88.3 495 88.3C496.74 88.3 498.05 80.9 499.79 80.9C501.53 80.9 502.84 88.3 504.58 88.3" stroke="#3f9273" stroke-width="2" fill="none"/>
<path d="M504.58 88.5 L510.08 88.5" stroke="#7f9a78" stroke-width="0.8" fill="none"/>
<text x="509.58" y="89" font-size="5.6" fill="#7f9a78" stroke="#7f9a78" stroke-width="0.25" textLength="20" lengthAdjust="spacingAndGlyphs">AAAAAA</text>
<ellipse cx="544.1" cy="73.3" rx="6.2" ry="6.85" stroke="#3d6cb2" stroke-width="1.25" fill="none"/>
<ellipse cx="565.5" cy="72.3" rx="6.2" ry="6.85" stroke="#3d6cb2" stroke-width="1.25" fill="none"/>
<ellipse cx="591.4" cy="72.5" rx="6.2" ry="6.85" stroke="#3d6cb2" stroke-width="1.25" fill="none"/>
<ellipse cx="613" cy="72" rx="6.2" ry="6.85" stroke="#3d6cb2" stroke-width="1.25" fill="none"/>
<ellipse cx="637.4" cy="71.3" rx="6.2" ry="6.85" stroke="#3d6cb2" stroke-width="1.25" fill="none"/>
<ellipse cx="659" cy="71.3" rx="6.2" ry="6.85" stroke="#3d6cb2" stroke-width="1.25" fill="none"/>
<ellipse cx="684.7" cy="72.2" rx="6.2" ry="6.85" stroke="#3d6cb2" stroke-width="1.25" fill="none"/>
<ellipse cx="706" cy="71.7" rx="6.2" ry="6.85" stroke="#3d6cb2" stroke-width="1.25" fill="none"/>
<ellipse cx="732.2" cy="72.5" rx="6.2" ry="6.85" stroke="#3d6cb2" stroke-width="1.25" fill="none"/>
<ellipse cx="753.5" cy="71.6" rx="6.2" ry="6.85" stroke="#3d6cb2" stroke-width="1.25" fill="none"/>
<ellipse cx="555.8" cy="86.4" rx="6.2" ry="6.85" stroke="#3d6cb2" stroke-width="1.25" fill="none"/>
<ellipse cx="577.3" cy="84.9" rx="6.2" ry="6.85" stroke="#3d6cb2" stroke-width="1.25" fill="none"/>
<ellipse cx="602.9" cy="85.3" rx="6.2" ry="6.85" stroke="#3d6cb2" stroke-width="1.25" fill="none"/>
<ellipse cx="624.6" cy="84.8" rx="6.2" ry="6.85" stroke="#3d6cb2" stroke-width="1.25" fill="none"/>
<ellipse cx="649" cy="85.7" rx="6.2" ry="6.85" stroke="#3d6cb2" stroke-width="1.25" fill="none"/>
<ellipse cx="670.6" cy="85.3" rx="6.2" ry="6.85" stroke="#3d6cb2" stroke-width="1.25" fill="none"/>
<ellipse cx="696.2" cy="86" rx="6.2" ry="6.85" stroke="#3d6cb2" stroke-width="1.25" fill="none"/>
<ellipse cx="717.5" cy="85" rx="6.2" ry="6.85" stroke="#3d6cb2" stroke-width="1.25" fill="none"/>
<ellipse cx="743.4" cy="86.3" rx="6.2" ry="6.85" stroke="#3d6cb2" stroke-width="1.25" fill="none"/>
<ellipse cx="765.2" cy="85.3" rx="6.2" ry="6.85" stroke="#3d6cb2" stroke-width="1.25" fill="none"/>
<line x1="584" y1="177.4" x2="609.6" y2="181.9" stroke="#6797cd" stroke-width="1.1"/>
<line x1="621.6" y1="173.3" x2="665.7" y2="161.2" stroke="#6797cd" stroke-width="1.1"/>
<line x1="554.5" y1="201.2" x2="599.4" y2="189" stroke="#6797cd" stroke-width="1.1"/>
<line x1="626.9" y1="190.5" x2="658.6" y2="188.2" stroke="#6797cd" stroke-width="1.1"/>
<line x1="569.9" y1="213.3" x2="640.5" y2="200.2" stroke="#6797cd" stroke-width="1.1"/>
<line x1="666.2" y1="178.7" x2="697.5" y2="175.7" stroke="#6797cd" stroke-width="1.1"/>
<line x1="701" y1="189" x2="725.2" y2="207.2" stroke="#6797cd" stroke-width="1.1"/>
<line x1="672.2" y1="194.1" x2="718" y2="221.7" stroke="#6797cd" stroke-width="1.1"/>
<line x1="638" y1="218.6" x2="669.4" y2="207.1" stroke="#6797cd" stroke-width="1.1"/>
<line x1="616.8" y1="217.6" x2="666.1" y2="252.5" stroke="#6797cd" stroke-width="1.1"/>
<line x1="661.1" y1="234.5" x2="683.7" y2="222.8" stroke="#6797cd" stroke-width="1.1"/>
<line x1="698.8" y1="233.8" x2="736.2" y2="234.2" stroke="#6797cd" stroke-width="1.1"/>
<line x1="530.5" y1="242.9" x2="575.5" y2="230.4" stroke="#6797cd" stroke-width="1.1"/>
<line x1="587" y1="240.4" x2="621.3" y2="227.6" stroke="#6797cd" stroke-width="1.1"/>
<line x1="593.7" y1="266.2" x2="638.7" y2="253.8" stroke="#6797cd" stroke-width="1.1"/>
<line x1="676.8" y1="240.5" x2="701" y2="258.4" stroke="#6797cd" stroke-width="1.1"/>
<path d="M480.2 186.4C481.94 186.4 483.25 179 484.99 179C486.73 179 488.04 186.4 489.78 186.4C491.52 186.4 492.83 179 494.57 179C496.31 179 497.62 186.4 499.36 186.4C501.1 186.4 502.41 179 504.15 179C505.89 179 507.2 186.4 508.94 186.4C510.68 186.4 511.99 179 513.73 179C515.47 179 516.78 186.4 518.52 186.4C520.26 186.4 521.57 179 523.31 179C525.05 179 526.36 186.4 528.1 186.4C529.84 186.4 531.15 179 532.89 179C534.63 179 535.94 186.4 537.68 186.4" stroke="#f1a146" stroke-width="2" fill="none"/>
<path d="M537.68 186.6 L543.18 186.6" stroke="#e39563" stroke-width="0.8" fill="none"/>
<text x="542.68" y="187.1" font-size="5.6" fill="#e39563" stroke="#e39563" stroke-width="0.25" textLength="20" lengthAdjust="spacingAndGlyphs">AAAAAA</text>
<path d="M0 -0 L0.4 -0.13 L0.8 -0.5 L1.2 -1.09 L1.6 -1.86 L2 -2.75 L2.4 -3.71 L2.8 -4.67 L3.2 -5.56 L3.6 -6.33 L4 -6.91 L4.4 -7.28 L4.8 -7.4 L5.2 -7.27 L5.6 -6.89 L6 -6.29 L6.4 -5.52 L6.8 -4.62 L7.2 -3.66 L7.6 -2.71 L8 -1.82 L8.4 -1.05 L8.8 -0.47 L9.2 -0.11 L9.6 -0 L10 -0.14 L10.4 -0.52 L10.8 -1.12 L11.2 -1.9 L11.6 -2.8 L12 -3.76 L12.4 -4.72 L12.8 -5.61 L13.2 -6.36 L13.6 -6.94 L14 -7.29 L14.4 -7.4 L14.8 -7.25 L15.2 -6.87 L15.6 -6.26 L16 -5.48 L16.4 -4.58 L16.8 -3.62 L17.2 -2.66 L17.6 -1.77 L18 -1.02 L18.4 -0.45 L18.8 -0.1 L19.2 -0 L19.6 -0.15 L20 -0.55 L20.4 -1.16 L20.8 -1.94 L21.2 -2.85 L21.6 -3.81 L22 -4.76 L22.4 -5.65 L22.8 -6.4 L23.2 -6.96 L23.6 -7.3 L24 -7.4 L24.4 -7.24 L24.8 -6.84 L25.2 -6.22 L25.6 -5.44 L26 -4.53 L26.4 -3.57 L26.8 -2.61 L27.2 -1.73 L27.6 -0.99 L28 -0.43 L28.4 -0.09 L28.8 -0 L29.2 -0.17 L29.6 -0.57 L30 -1.19 L30.4 -1.98 L30.8 -2.89 L31.2 -3.86 L31.6 -4.81 L32 -5.69 L32.4 -6.43 L32.8 -6.98 L33.2 -7.31 L33.6 -7.4 L34 -7.23 L34.4 -6.81 L34.8 -6.19 L35.2 -5.39 L35.6 -4.48 L36 -3.52 L36.4 -2.57 L36.8 -1.69 L37.2 -0.95 L37.6 -0.4 L38 -0.08 L38.4 -0.01 L38.8 -0.18 L39.2 -0.6 L39.6 -1.23 L40 -2.03 L40.4 -2.94 L40.8 -3.91 L41.2 -4.86 L41.6 -5.73 L42 -6.46" stroke="#3f9273" stroke-width="2" fill="none" stroke-linejoin="round" vector-effect="non-scaling-stroke" transform="matrix(1 0.46 -0.26 1.05 492.35 210.61)"/>
<path d="M0 -0 L0.4 -0.13 L0.8 -0.53 L1.2 -1.16 L1.6 -2 L2 -2.98 L2.4 -4.05 L2.8 -5.15 L3.2 -6.21 L3.6 -7.17 L4 -7.97 L4.4 -8.56 L4.8 -8.91 L5.2 -9 L5.6 -8.81 L6 -8.37 L6.4 -7.69 L6.8 -6.83 L7.2 -5.82 L7.6 -4.74 L8 -3.64 L8.4 -2.6 L8.8 -1.66 L9.2 -0.9 L9.6 -0.35 L10 -0.05 L10.4 -0.02 L10.8 -0.25 L11.2 -0.74 L11.6 -1.45 L12 -2.35 L12.4 -3.37 L12.8 -4.47 L13.2 -5.56 L13.6 -6.59 L14 -7.49 L14.4 -8.22 L14.8 -8.72 L15.2 -8.97 L15.6 -8.96 L16 -8.67 L16.4 -8.14 L16.8 -7.39 L17.2 -6.47 L17.6 -5.42 L18 -4.33 L18.4 -3.24 L18.8 -2.23 L19.2 -1.35 L19.6 -0.67 L20 -0.21 L20.4 -0.01 L20.8 -0.08 L21.2 -0.41 L21.6 -0.98 L22 -1.77 L22.4 -2.72 L22.8 -3.78 L23.2 -4.88 L23.6 -5.96 L24 -6.95 L24.4 -7.79 L24.8 -8.44 L25.2 -8.85 L25.6 -9 L26 -8.88 L26.4 -8.5 L26.8 -7.88 L27.2 -7.06 L27.6 -6.09 L28 -5.02 L28.4 -3.92 L28.8 -2.85 L29.2 -1.88 L29.6 -1.07 L30 -0.47 L30.4 -0.1 L30.8 -0 L31.2 -0.17 L31.6 -0.6 L32 -1.26 L32.4 -2.11 L32.8 -3.11 L33.2 -4.19 L33.6 -5.29 L34 -6.34" stroke="#f1a146" stroke-width="2" fill="none" stroke-linejoin="round" transform="translate(499.8 262.0)"/>
<path d="M0 -0 L0.4 -0.13 L0.8 -0.5 L1.21 -1.1 L1.61 -1.87 L2.01 -2.78 L2.41 -3.74 L2.81 -4.7 L3.22 -5.6 L3.62 -6.36 L4.02 -6.94 L4.42 -7.29 L4.82 -7.4 L5.23 -7.25 L5.63 -6.86 L6.03 -6.24 L6.43 -5.46 L6.83 -4.55 L7.24 -3.58 L7.64 -2.62 L8.04 -1.73 L8.44 -0.99 L8.84 -0.42 L9.25 -0.09 L9.65 -0 L10.05 -0.17 L10.45 -0.59 L10.85 -1.22 L11.25 -2.02 L11.66 -2.93 L12.06 -3.9 L12.46 -4.86 L12.86 -5.73 L13.26 -6.47 L13.67 -7.01 L14.07 -7.33 L14.47 -7.39 L14.87 -7.2 L15.27 -6.77 L15.68 -6.12 L16.08 -5.31 L16.48 -4.39 L16.88 -3.42 L17.28 -2.46 L17.69 -1.6 L18.09 -0.88 L18.49 -0.35 L18.89 -0.06 L19.29 -0.01 L19.7 -0.23 L20.1 -0.68 L20.5 -1.34 L20.9 -2.16 L21.3 -3.09 L21.71 -4.07 L22.11 -5.01 L22.51 -5.87 L22.91 -6.57 L23.31 -7.08 L23.72 -7.36 L24.12 -7.38 L24.52 -7.14 L24.92 -6.67 L25.32 -6 L25.73 -5.16 L26.13 -4.23 L26.53 -3.25 L26.93 -2.31 L27.33 -1.47 L27.74 -0.77 L28.14 -0.29 L28.54 -0.03 L28.94 -0.03 L29.34 -0.29 L29.74 -0.77 L30.15 -1.47 L30.55 -2.31 L30.95 -3.25 L31.35 -4.23 L31.75 -5.16 L32.16 -6 L32.56 -6.67 L32.96 -7.14 L33.36 -7.38 L33.76 -7.36 L34.17 -7.08 L34.57 -6.57 L34.97 -5.87 L35.37 -5.01 L35.77 -4.07 L36.18 -3.09 L36.58 -2.16 L36.98 -1.34 L37.38 -0.68 L37.78 -0.23 L38.19 -0.01 L38.59 -0.06 L38.99 -0.35 L39.39 -0.88 L39.79 -1.6 L40.2 -2.46 L40.6 -3.42 L41 -4.39 L41.4 -5.31 L41.8 -6.12 L42.21 -6.77 L42.61 -7.2 L43.01 -7.39 L43.41 -7.33 L43.81 -7.01 L44.22 -6.47 L44.62 -5.73 L45.02 -4.86 L45.42 -3.9 L45.82 -2.93 L46.23 -2.02 L46.63 -1.22 L47.03 -0.59 L47.43 -0.17 L47.83 -0 L48.23 -0.09 L48.64 -0.42 L49.04 -0.99 L49.44 -1.73 L49.84 -2.62 L50.24 -3.58 L50.65 -4.55 L51.05 -5.46 L51.45 -6.24 L51.85 -6.86 L52.25 -7.25 L52.66 -7.4 L53.06 -7.29 L53.46 -6.94 L53.86 -6.36 L54.26 -5.6 L54.67 -4.7 L55.07 -3.74 L55.47 -2.78 L55.87 -1.87 L56.27 -1.1 L56.68 -0.5 L57.08 -0.13 L57.48 -0" stroke="#3f9273" stroke-width="2" fill="none" stroke-linejoin="round" vector-effect="non-scaling-stroke" transform="matrix(0.77 -0.65 0.63 0.89 550.68 291.62)"/>
<g transform="matrix(0.77 -0.65 0.63 0.89 550.68 291.62)">
<path d="M57.48 0.2 L62.98 0.2" stroke="#7f9a78" stroke-width="0.8" fill="none"/>
<text x="62.48" y="0.7" font-size="5.6" fill="#7f9a78" stroke="#7f9a78" stroke-width="0.25" textLength="17.8" lengthAdjust="spacingAndGlyphs">AAAAAA</text>
</g>
<text x="557.2" y="365" font-size="8.2" fill="#3d67a6" font-weight="normal">5'</text>
<line x1="564.2" y1="361.3" x2="619.6" y2="361.3" stroke="#58749e" stroke-width="0.85"/>
<text x="621.2" y="364.4" font-size="7.4" fill="#3d6aae" font-weight="normal" textLength="29" lengthAdjust="spacingAndGlyphs">AAAAAA</text>
<path d="M563.7 383.9C565.56 383.9 566.94 375.5 568.8 375.5C570.66 375.5 572.04 383.9 573.9 383.9C575.76 383.9 577.14 375.5 579 375.5C580.86 375.5 582.24 383.9 584.1 383.9C585.96 383.9 587.34 375.5 589.2 375.5C591.06 375.5 592.44 383.9 594.3 383.9" stroke="#f1a146" stroke-width="2" fill="none"/>
<path d="M594.3 384.1 L599.8 384.1" stroke="#e39563" stroke-width="0.8" fill="none"/>
<text x="599.3" y="384.6" font-size="5.6" fill="#e39563" stroke="#e39563" stroke-width="0.25" textLength="22" lengthAdjust="spacingAndGlyphs">AAAAAA</text>
<path d="M564.6 392.9C566.46 392.9 567.84 401.3 569.7 401.3C571.56 401.3 572.94 392.9 574.8 392.9C576.66 392.9 578.04 401.3 579.9 401.3C581.76 401.3 583.14 392.9 585 392.9C586.86 392.9 588.24 401.3 590.1 401.3C591.96 401.3 593.34 392.9 595.2 392.9C597.06 392.9 598.44 401.3 600.3 401.3" stroke="#3f9273" stroke-width="2" fill="none"/>
<path d="M600.3 400.7 L605.8 400.7" stroke="#7f9a78" stroke-width="0.8" fill="none"/>
<text x="605.3" y="401.2" font-size="5.6" fill="#7f9a78" stroke="#7f9a78" stroke-width="0.25" textLength="22" lengthAdjust="spacingAndGlyphs">AAAAAA</text>
<ellipse cx="560.9" cy="452.5" rx="5.3" ry="5.6" stroke="#3d6cb2" stroke-width="1.25" fill="none"/>
<path d="M535.2 468.15C535.99 468.15 536.58 464.15 537.37 464.15C538.17 464.15 538.76 468.15 539.55 468.15C540.34 468.15 540.93 464.15 541.72 464.15C542.52 464.15 543.11 468.15 543.9 468.15C544.69 468.15 545.28 464.15 546.07 464.15C546.87 464.15 547.46 468.15 548.25 468.15C549.04 468.15 549.63 464.15 550.42 464.15C551.22 464.15 551.81 468.15 552.6 468.15C553.39 468.15 553.98 464.15 554.77 464.15C555.57 464.15 556.16 468.15 556.95 468.15C557.74 468.15 558.33 464.15 559.12 464.15C559.92 464.15 560.51 468.15 561.3 468.15C562.09 468.15 562.68 464.15 563.47 464.15C564.27 464.15 564.86 468.15 565.65 468.15" stroke="#3f9273" stroke-width="1.1" fill="none"/>
<path d="M510.8 479.95C511.67 479.95 512.33 476.35 513.2 476.35C514.07 476.35 514.73 479.95 515.6 479.95C516.47 479.95 517.13 476.35 518 476.35C518.87 476.35 519.53 479.95 520.4 479.95C521.27 479.95 521.93 476.35 522.8 476.35C523.67 476.35 524.33 479.95 525.2 479.95C526.07 479.95 526.73 476.35 527.6 476.35C528.47 476.35 529.13 479.95 530 479.95C530.87 479.95 531.53 476.35 532.4 476.35C533.27 476.35 533.93 479.95 534.8 479.95C535.67 479.95 536.33 476.35 537.2 476.35C538.07 476.35 538.73 479.95 539.6 479.95" stroke="#f1a146" stroke-width="1.1" fill="none"/>
<path d="M539.6 480.15 L545.1 480.15" stroke="#e39563" stroke-width="0.8" fill="none"/>
<text x="544.6" y="480.65" font-size="5.6" fill="#e39563" stroke="#e39563" stroke-width="0.25" textLength="20" lengthAdjust="spacingAndGlyphs">AAAAAA</text>
<text x="580" y="456.3" font-size="9.3" fill="#141414" font-weight="bold" textLength="55.5" lengthAdjust="spacingAndGlyphs" stroke="#141414" stroke-width="0.2">Circular RNA</text>
<text x="578.8" y="469.9" font-size="9.3" fill="#141414" font-weight="bold" textLength="152.5" lengthAdjust="spacingAndGlyphs" stroke="#141414" stroke-width="0.2">Non poly A RNA (rRNA, tRNA, etc.)</text>
<text x="578.8" y="481.8" font-size="9.3" fill="#141414" font-weight="bold" textLength="49" lengthAdjust="spacingAndGlyphs" stroke="#141414" stroke-width="0.2">Poly A RNA</text>
</svg>
</body></html>
